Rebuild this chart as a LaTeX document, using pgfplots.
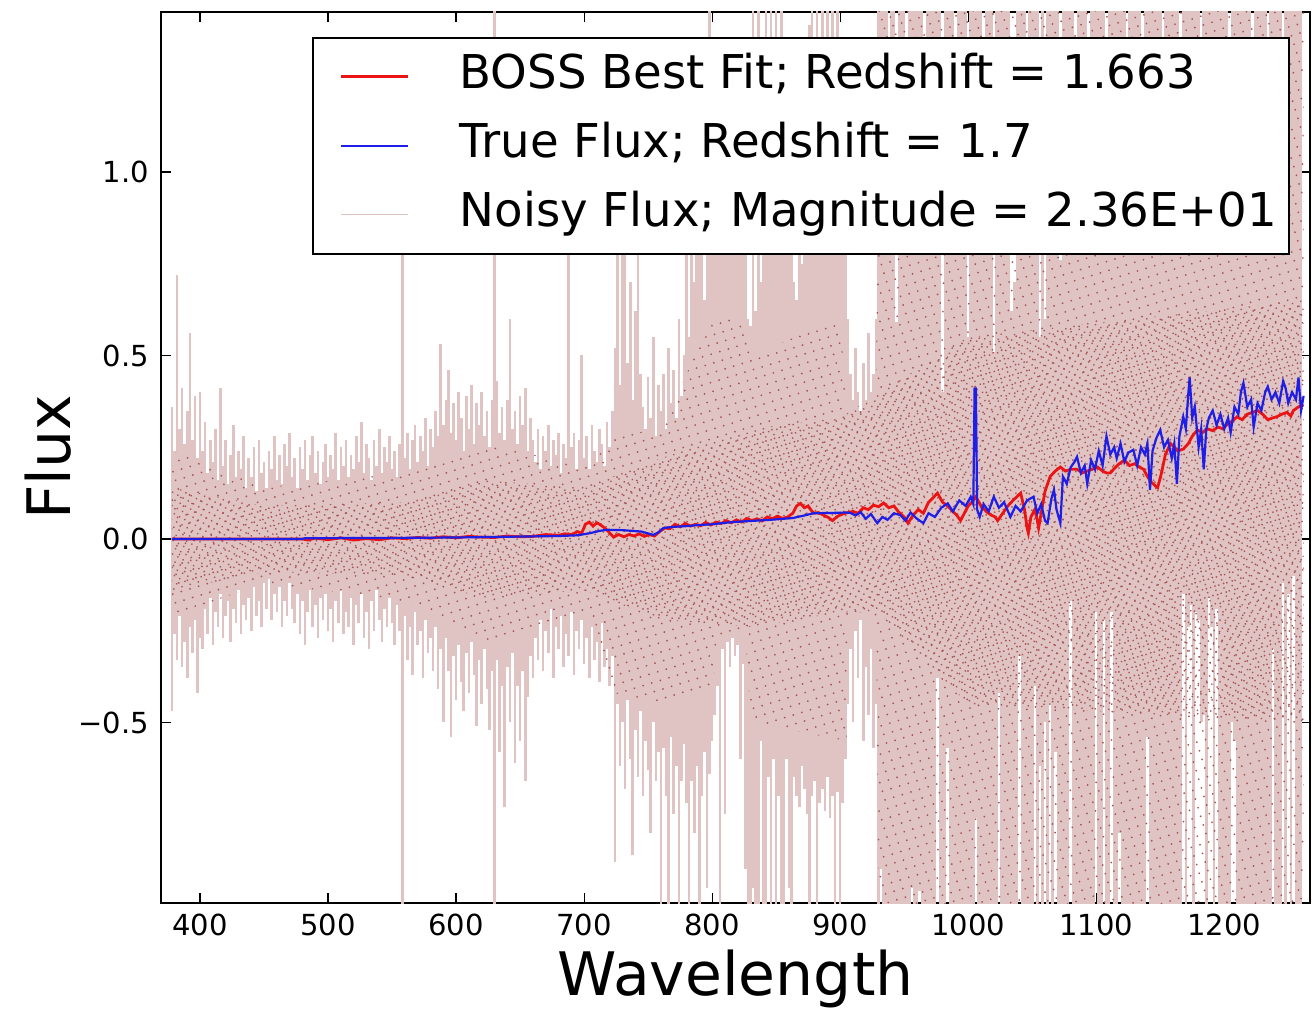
\documentclass[border=0pt]{standalone}
\usepackage{fontspec}
\setmainfont{DejaVu Sans}
\usepackage{pgfplots}
\usepackage{pgfplotstable}
\pgfplotsset{compat=1.18}
\usepgfplotslibrary{fillbetween}
\usetikzlibrary{patterns.meta}
\definecolor{noisy}{RGB}{224,195,195}
\definecolor{dotred}{RGB}{165,85,85}
\definecolor{fitred}{RGB}{235,20,20}
\definecolor{trueblue}{RGB}{30,30,230}

% noisy flux: upper and lower reach of the spectrum at each wavelength
\pgfplotstableread{
x u l
378 0.36 -0.47
380 0.24 -0.26
382 0.72 -0.33
384 0.30 -0.21
386 0.41 -0.35
388 0.26 -0.28
390 0.35 -0.38
392 0.56 -0.24
394 0.27 -0.31
396 0.39 -0.22
398 0.22 -0.42
400 0.40 -0.27
402 0.24 -0.30
404 0.32 -0.19
406 0.18 -0.26
408 0.27 -0.16
410 0.21 -0.29
412 0.30 -0.20
414 0.16 -0.24
416 0.41 -0.15
418 0.20 -0.27
420 0.27 -0.21
422 0.15 -0.17
424 0.23 -0.28
426 0.31 -0.19
428 0.17 -0.23
430 0.24 -0.14
432 0.19 -0.26
434 0.28 -0.18
436 0.14 -0.22
438 0.22 -0.16
440 0.17 -0.25
442 0.25 -0.13
444 0.13 -0.21
446 0.27 -0.17
448 0.18 -0.24
450 0.21 -0.12
452 0.14 -0.19
454 0.24 -0.11
456 0.19 -0.22
458 0.28 -0.15
460 0.16 -0.20
462 0.23 -0.13
464 0.15 -0.24
466 0.26 -0.17
468 0.20 -0.21
470 0.29 -0.12
472 0.17 -0.19
474 0.22 -0.23
476 0.14 -0.15
478 0.25 -0.26
480 0.19 -0.17
482 0.27 -0.29
484 0.16 -0.20
486 0.23 -0.14
488 0.28 -0.24
490 0.18 -0.18
492 0.24 -0.27
494 0.15 -0.16
496 0.21 -0.22
498 0.26 -0.15
500 0.17 -0.25
502 0.23 -0.19
504 0.19 -0.28
506 0.29 -0.17
508 0.16 -0.23
510 0.25 -0.14
512 0.20 -0.26
514 0.27 -0.20
516 0.17 -0.24
518 0.23 -0.16
520 0.19 -0.29
522 0.28 -0.18
524 0.21 -0.23
526 0.32 -0.15
528 0.18 -0.27
530 0.26 -0.20
532 0.22 -0.30
534 0.16 -0.17
536 0.27 -0.25
538 0.20 -0.14
540 0.30 -0.22
542 0.18 -0.28
544 0.25 -0.19
546 0.21 -0.24
548 0.28 -0.16
550 0.19 -0.23
552 0.24 -0.29
554 0.17 -0.18
556 0.26 -0.25
558 1.00 -2.00
560 0.22 -0.21
562 0.29 -0.33
564 0.19 -0.24
566 0.27 -0.37
568 0.31 -0.20
570 0.21 -0.29
572 0.28 -0.25
574 0.24 -0.38
576 0.33 -0.22
578 0.20 -0.31
580 0.30 -0.27
582 0.25 -0.36
584 0.35 -0.24
586 0.28 -0.41
588 0.53 -0.30
590 0.31 -0.50
592 0.38 -0.27
594 0.46 -0.36
596 0.29 -0.54
598 0.37 -0.32
600 0.27 -0.44
602 0.40 -0.29
604 0.33 -0.39
606 0.24 -0.47
608 0.39 -0.31
610 0.30 -0.42
612 0.42 -0.28
614 0.26 -0.37
616 0.37 -0.51
618 0.31 -0.33
620 0.40 -0.45
622 0.28 -0.30
624 0.35 -0.41
626 0.25 -0.52
628 0.38 -0.36
630 2.00 -2.00
632 0.43 -0.33
634 0.29 -0.58
636 0.36 -0.40
638 0.27 -0.73
640 0.38 -0.35
642 0.60 -0.50
644 0.30 -0.31
646 0.35 -0.61
648 0.26 -0.40
650 0.39 -0.55
652 0.31 -0.36
654 0.41 -0.66
656 0.24 -0.43
658 0.33 -0.32
660 0.27 -0.38
662 0.21 -0.27
664 0.30 -0.33
666 0.19 -0.22
668 0.28 -0.36
670 0.24 -0.25
672 0.31 -0.31
674 0.20 -0.19
676 0.27 -0.38
678 0.23 -0.24
680 0.29 -0.30
682 0.18 -0.21
684 0.26 -0.35
686 0.22 -0.26
688 1.20 -0.32
690 0.25 -0.20
692 0.29 -0.37
694 0.19 -0.25
696 0.27 -0.30
698 0.50 -0.22
700 0.22 -0.34
702 0.28 -0.27
704 0.19 -0.38
706 0.31 -0.24
708 0.24 -0.33
710 0.21 -0.28
712 0.30 -0.39
714 0.26 -0.23
716 0.20 -0.35
718 0.32 -0.30
720 0.25 -0.40
722 0.35 -0.32
724 0.52 -0.88
726 1.30 -0.45
728 0.42 -0.62
730 1.10 -0.50
732 0.90 -0.68
734 0.48 -0.44
736 0.70 -0.60
738 0.38 -0.86
740 0.62 -0.52
742 1.20 -0.65
744 0.45 -0.47
746 0.36 -0.70
748 0.30 -0.55
750 0.44 -0.63
752 0.33 -0.80
754 0.55 -0.50
756 0.28 -0.66
758 0.42 -0.58
760 0.35 -1.50
762 0.45 -0.57
764 0.30 -0.70
766 0.52 -1.20
768 0.37 -0.54
770 0.46 -0.75
772 0.33 -0.62
774 0.60 -1.50
776 0.39 -0.66
778 0.50 -0.56
780 0.90 -0.72
782 0.55 -1.30
784 1.20 -0.66
786 0.70 -0.80
788 1.30 -0.62
790 0.80 -1.50
792 1.10 -0.70
794 0.65 -0.58
796 1.30 -0.95
798 2.00 -0.64
800 1.00 -0.55
802 1.20 -0.48
804 0.95 -0.40
806 1.30 -1.20
808 1.10 -0.30
810 1.25 -0.75
812 0.90 -0.28
814 1.30 -0.35
816 1.05 -0.27
818 1.20 -0.32
820 1.15 -0.29
822 1.30 -0.60
824 0.98 -0.34
826 1.20 -0.90
828 0.60 -1.50
830 0.58 -1.20
832 2.00 -0.95
834 0.62 -1.50
836 2.00 -1.10
838 0.70 -0.55
840 1.30 -1.50
842 2.00 -1.30
844 1.20 -0.65
846 2.00 -1.50
848 1.00 -0.60
850 2.00 -1.20
852 1.30 -0.70
854 2.00 -1.50
856 0.90 -1.40
858 1.25 -0.60
860 1.30 -0.95
862 1.10 -1.50
864 0.70 -0.65
866 0.65 -0.70
868 1.20 -0.73
870 0.75 -0.62
872 1.30 -0.68
874 1.25 -0.75
876 1.40 -1.50
878 2.00 -0.70
880 1.10 -0.66
882 2.00 -1.50
884 1.30 -0.72
886 2.00 -0.68
888 0.90 -0.74
890 2.00 -0.65
892 1.00 -0.76
894 2.00 -0.70
896 1.20 -1.50
898 2.00 -0.69
900 1.25 -1.50
902 1.10 -0.72
904 1.30 -0.60
906 0.60 -0.45
908 0.45 -0.30
910 0.38 -0.50
912 0.52 -0.25
914 0.40 -0.38
916 0.35 -0.22
918 0.48 -0.55
920 0.38 -0.35
922 0.56 -0.48
924 0.40 -0.30
926 0.45 -0.57
928 0.60 -0.45
930 2.00 -2.00
932 2.00 -0.90
934 2.00 -2.00
936 2.00 -2.00
938 1.10 -2.00
940 2.00 -2.00
942 2.00 -2.00
944 0.59 -2.00
946 2.00 -2.00
948 2.00 -2.00
950 2.00 -2.00
952 1.20 -2.00
954 2.00 -2.00
956 2.00 -0.95
958 2.00 -2.00
960 2.00 -2.00
962 2.00 -0.96
964 2.00 -2.00
966 1.30 -2.00
968 2.00 -2.00
970 2.00 -2.00
972 2.00 -2.00
974 2.00 -2.00
976 2.00 -0.38
978 2.00 -2.00
980 0.40 -2.00
982 2.00 -2.00
984 2.00 -0.57
986 2.00 -2.00
988 2.00 -2.00
990 1.25 -2.00
992 2.00 -2.00
994 2.00 -2.00
996 2.00 -2.00
998 2.00 -2.00
1000 0.55 -2.00
1002 2.00 -2.00
1004 2.00 -2.00
1006 2.00 -0.76
1008 2.00 -2.00
1010 2.00 -2.00
1012 1.30 -2.00
1014 2.00 -2.00
1016 2.00 -2.00
1018 2.00 -2.00
1020 0.51 -2.00
1022 2.00 -2.00
1024 2.00 -0.42
1026 2.00 -2.00
1028 2.00 -2.00
1030 2.00 -2.00
1032 2.00 -2.00
1034 0.62 -2.00
1036 0.70 -2.00
1038 2.00 -2.00
1040 2.00 -0.32
1042 2.00 -2.00
1044 2.00 -2.00
1046 1.30 -2.00
1048 2.00 -2.00
1050 2.00 -2.00
1052 2.00 -0.40
1054 2.00 -2.00
1056 0.55 -0.62
1058 2.00 -2.00
1060 0.60 -0.50
1062 2.00 -2.00
1064 2.00 -0.45
1066 2.00 -2.00
1068 2.00 -0.58
1070 2.00 -2.00
1072 0.76 -2.00
1074 2.00 -2.00
1076 2.00 -2.00
1078 2.00 -2.00
1080 2.00 -0.17
1082 2.00 -2.00
1084 1.30 -2.00
1086 2.00 -2.00
1088 2.00 -2.00
1090 2.00 -2.00
1092 2.00 -2.00
1094 1.20 -2.00
1096 2.00 -2.00
1098 2.00 -2.00
1100 2.00 -0.20
1102 2.00 -2.00
1104 2.00 -2.00
1106 2.00 -0.22
1108 1.30 -2.00
1110 2.00 -2.00
1112 2.00 -0.20
1114 2.00 -2.00
1116 2.00 -2.00
1118 2.00 -0.80
1120 2.00 -2.00
1122 2.00 -2.00
1124 1.25 -2.00
1126 2.00 -2.00
1128 2.00 -2.00
1130 2.00 -2.00
1132 2.00 -2.00
1134 2.00 -2.00
1136 1.20 -2.00
1138 2.00 -2.00
1140 2.00 -0.54
1142 2.00 -2.00
1144 2.00 -2.00
1146 2.00 -2.00
1148 2.00 -2.00
1150 2.00 -2.00
1152 1.30 -2.00
1154 2.00 -2.00
1156 2.00 -2.00
1158 2.00 -2.00
1160 2.00 -2.00
1162 2.00 -2.00
1164 2.00 -2.00
1166 1.25 -2.00
1168 2.00 -0.15
1170 2.00 -2.00
1172 2.00 -0.24
1174 2.00 -0.18
1176 2.00 -2.00
1178 2.00 -0.20
1180 2.00 -0.22
1182 1.20 -0.50
1184 2.00 -0.48
1186 2.00 -2.00
1188 2.00 -0.16
1190 2.00 -0.24
1192 2.00 -2.00
1194 2.00 -0.19
1196 2.00 -2.00
1198 2.00 -2.00
1200 2.00 -2.00
1202 2.00 -2.00
1204 1.30 -2.00
1206 2.00 -0.50
1208 2.00 -0.55
1210 2.00 -2.00
1212 2.00 -2.00
1214 2.00 -2.00
1216 2.00 -2.00
1218 2.00 -2.00
1220 2.00 -2.00
1222 1.25 -2.00
1224 2.00 -2.00
1226 2.00 -2.00
1228 2.00 -2.00
1230 2.00 -2.00
1232 2.00 -2.00
1234 1.30 -2.00
1236 2.00 -2.00
1238 2.00 -0.30
1240 2.00 -2.00
1242 2.00 -2.00
1244 2.00 -2.00
1246 1.20 -0.12
1248 2.00 -2.00
1250 2.00 -0.15
1252 2.00 -2.00
1254 2.00 -0.10
1256 2.00 -2.00
1258 2.00 -2.00
1260 2.00 -2.00
}\noisytab

\begin{document}
\begin{tikzpicture}
\begin{axis}[
  scale only axis,
  width=574.5pt, height=445.5pt,
  xmin=369.5, xmax=1267, ymin=-0.992, ymax=1.436,
  xtick={400,500,600,700,800,900,1000,1100,1200},
  xticklabels={400,500,600,700,800,900,1000,1100,1200},
  ytick={-0.5,0,0.5,1.0},
  yticklabels={−0.5,0.0,0.5,1.0},
  tick align=inside,
  major tick length=5pt,
  tick style={black, line width=0.6pt},
  axis line style={line width=0.9pt},
  ticklabel style={font=\fontsize{14.5}{17}\selectfont},
  xticklabel style={yshift=-2pt},
  yticklabel style={xshift=-2.5pt},
  xlabel={Wavelength}, ylabel={Flux},
  label style={font=\fontsize{30}{36}\selectfont},
  xlabel style={at={(axis description cs:0.5,-0.1033)}, anchor=base},
  ylabel style={at={(axis description cs:-0.0792,0.5)}, anchor=base},
  legend style={at={(0.9826,0.972)}, anchor=north east,
    font=\fontsize{23.3}{28}\selectfont, draw=black, line width=0.8pt,
    fill=white, inner xsep=4pt, inner ysep=6pt,
    nodes={inner sep=2pt, text height=17.5pt, text depth=5.5pt},
    row sep=7.5pt, column sep=23pt},
  legend cell align=left,
  legend image code/.code={\path (0pt,0pt); \draw[#1] (9.5pt,0pt) -- (43pt,0pt);},
  fill between/on layer=main,
]
\addplot[ycomb, noisy, line width=1.3pt, forget plot] table[x=x, y=u] {\noisytab};
\addplot[ycomb, noisy, line width=1.3pt, forget plot] table[x=x, y=l] {\noisytab};

% speckle of the noisy samples: dense near zero, sparse further out
\addplot[draw=none, name path=inU, forget plot] coordinates {
(378,0.14) (450,0.09) (560,0.10) (620,0.16) (700,0.14) (760,0.22) (830,0.30) (900,0.33) (1000,0.55) (1262,0.65)};
\addplot[draw=none, name path=inL, forget plot] coordinates {
(378,-0.14) (450,-0.09) (560,-0.10) (620,-0.16) (700,-0.14) (760,-0.22) (830,-0.24) (900,-0.20) (930,-0.20) (1000,-0.45) (1262,-0.50)};
\addplot[draw=none, name path=outU, forget plot] coordinates {
(378,0.24) (450,0.14) (560,0.18) (620,0.26) (700,0.20) (724,0.28) (760,0.30) (800,0.60) (826,0.60) (830,0.50) (900,0.60) (905,0.35) (928,0.35) (930,1.45) (1262,1.45)};
\addplot[draw=none, name path=outL, forget plot] coordinates {
(378,-0.21) (450,-0.12) (560,-0.17) (620,-0.28) (700,-0.20) (724,-0.42) (760,-0.45) (800,-0.40) (806,-0.26) (826,-0.26) (830,-0.50) (905,-0.55) (906,-0.21) (928,-0.21) (930,-1.00) (1262,-1.00)};
\addplot[draw=none, pattern={Dots[distance=4.5pt, radius=0.5pt, angle=17]}, pattern color=dotred, forget plot]
  fill between[of=outU and outL];
\addplot[draw=none, pattern={Dots[distance=3pt, radius=0.48pt, angle=-29]}, pattern color=dotred, forget plot]
  fill between[of=inU and inL];

\addplot[fitred, line width=1.4pt] coordinates {
(378,0) (480,0) (484,-0.003) (490,0.002) (500,-0.002) (510,0.003) (520,-0.003)
(530,0.001) (540,-0.002) (550,0.003) (560,0.001) (570,0.004) (580,0.002) (590,0.006)
(600,0.003) (610,0.007) (620,0.005) (630,0.004) (640,0.008) (650,0.006) (660,0.007)
(670,0.012) (680,0.010) (685,0.014) (690,0.012) (695,0.020) (698,0.015) (701,0.040)
(704,0.046) (707,0.035) (710,0.044) (713,0.038) (716,0.030) (719,0.020) (723,0.005)
(727,0.012) (731,0.006) (735,0.012) (739,0.008) (743,0.014) (747,0.007) (751,0.012)
(755,0.008) (759,0.020) (763,0.030) (767,0.028) (771,0.040) (775,0.033) (779,0.042)
(783,0.035) (787,0.040) (791,0.036) (795,0.045) (799,0.038) (803,0.046) (807,0.042)
(811,0.050) (815,0.044) (819,0.052) (823,0.046) (827,0.056) (831,0.050) (835,0.055)
(839,0.049) (843,0.060) (847,0.055) (851,0.062) (855,0.056) (859,0.060) (863,0.070)
(866,0.090) (869,0.097) (872,0.085) (875,0.090) (879,0.070) (883,0.072) (887,0.065)
(891,0.058) (894,0.050) (898,0.062) (902,0.068) (906,0.072) (910,0.075) (914,0.070)
(918,0.085) (922,0.080) (926,0.092) (930,0.088) (934,0.098) (938,0.085) (942,0.090)
(946,0.072) (950,0.060) (953,0.043) (957,0.065) (961,0.080) (965,0.070) (969,0.100)
(972,0.110) (976,0.125) (980,0.100) (984,0.090) (988,0.075) (991,0.065) (994,0.050)
(997,0.070) (1000,0.090) (1003,0.100) (1006,0.115) (1010,0.090) (1014,0.075) (1018,0.065)
(1021,0.060) (1023,0.050) (1027,0.070) (1031,0.090) (1035,0.105) (1038,0.115) (1041,0.125)
(1044,0.080) (1046,0.030) (1047,0.016) (1049,0.060) (1052,0.080) (1054,0.050) (1055,0.030)
(1057,0.070) (1060,0.130) (1064,0.170) (1068,0.185) (1072,0.196) (1076,0.185) (1080,0.190)
(1085,0.190) (1089,0.180) (1093,0.185) (1097,0.190) (1101,0.196) (1105,0.185) (1108,0.180)
(1111,0.180) (1115,0.195) (1118,0.205) (1122,0.215) (1126,0.200) (1130,0.205) (1134,0.195)
(1137,0.190) (1140,0.170) (1143,0.155) (1146,0.145) (1148,0.140) (1151,0.180) (1154,0.230)
(1158,0.260) (1161,0.250) (1164,0.240) (1168,0.245) (1172,0.260) (1175,0.280) (1179,0.297)
(1183,0.290) (1187,0.300) (1191,0.295) (1195,0.305) (1199,0.300) (1203,0.315) (1206,0.320)
(1210,0.333) (1214,0.325) (1218,0.340) (1222,0.345) (1226,0.350) (1230,0.340) (1234,0.325)
(1238,0.330) (1241,0.333) (1245,0.340) (1249,0.345) (1252,0.335) (1254,0.350) (1258,0.360)
(1262,0.365)
};

\addplot[trueblue, line width=1.1pt] coordinates {
(378,0) (480,0) (482,0.002) (560,0.003) (600,0.004) (640,0.006) (680,0.008) (695,0.010)
(705,0.016) (712,0.022) (718,0.025) (730,0.024) (745,0.020) (754,0.011) (758,0.018)
(762,0.030) (770,0.033) (780,0.035) (790,0.038) (800,0.040) (810,0.044) (816,0.046)
(830,0.049) (845,0.052) (863,0.057) (872,0.064) (879,0.070) (894,0.071) (904,0.072)
(908,0.071) (912,0.064) (916,0.073) (920,0.055) (924,0.068) (929,0.043) (933,0.060)
(937,0.052) (942,0.070) (947,0.065) (951,0.050) (955,0.072) (960,0.055) (965,0.043)
(969,0.070) (974,0.060) (979,0.085) (984,0.097) (988,0.075) (993,0.105) (998,0.090)
(1002,0.115) (1004,0.095) (1005,0.41) (1006,0.41) (1007,0.08) (1009,0.06) (1012,0.095)
(1016,0.075) (1020,0.115) (1024,0.085) (1028,0.100) (1033,0.060) (1037,0.090) (1041,0.075)
(1046,0.105) (1051,0.115) (1054,0.070) (1057,0.095) (1060,0.050) (1062,0.043) (1065,0.110)
(1067,0.134) (1069,0.080) (1072,0.043) (1074,0.170) (1077,0.150) (1080,0.195) (1083,0.210)
(1085,0.224) (1088,0.180) (1091,0.200) (1093,0.150) (1096,0.215) (1099,0.190) (1102,0.240)
(1105,0.200) (1108,0.280) (1111,0.230) (1114,0.250) (1116,0.220) (1119,0.260) (1122,0.210)
(1125,0.235) (1129,0.243) (1132,0.200) (1135,0.250) (1138,0.230) (1140,0.260) (1142,0.134)
(1144,0.240) (1147,0.275) (1150,0.297) (1153,0.250) (1156,0.270) (1159,0.220) (1161,0.260)
(1163,0.150) (1165,0.280) (1168,0.333) (1170,0.30) (1172,0.40) (1173,0.44) (1175,0.33)
(1177,0.36) (1180,0.25) (1182,0.30) (1184,0.19) (1186,0.30) (1188,0.33) (1191,0.35)
(1194,0.31) (1197,0.34) (1200,0.30) (1203,0.33) (1205,0.29) (1208,0.36) (1211,0.34)
(1213,0.40) (1215,0.425) (1218,0.36) (1221,0.38) (1223,0.305) (1226,0.37) (1229,0.35)
(1232,0.40) (1234,0.415) (1237,0.38) (1240,0.40) (1243,0.37) (1246,0.43) (1248,0.41)
(1250,0.37) (1253,0.40) (1256,0.38) (1258,0.44) (1260,0.35) (1262,0.39)
};

\addlegendimage{noisy, line width=0.7pt}
\legend{BOSS Best Fit; Redshift = 1.663, True Flux; Redshift = 1.7, Noisy Flux; Magnitude = 2.36E+01}
\end{axis}
\pgfresetboundingbox
\path (current axis.south west) ++(-80.5pt,-55.5pt) coordinate (bbl);
\path (current axis.north east) ++(1pt,6pt) coordinate (btr);
\path[use as bounding box] (bbl) rectangle (btr);
\end{tikzpicture}
\end{document}
